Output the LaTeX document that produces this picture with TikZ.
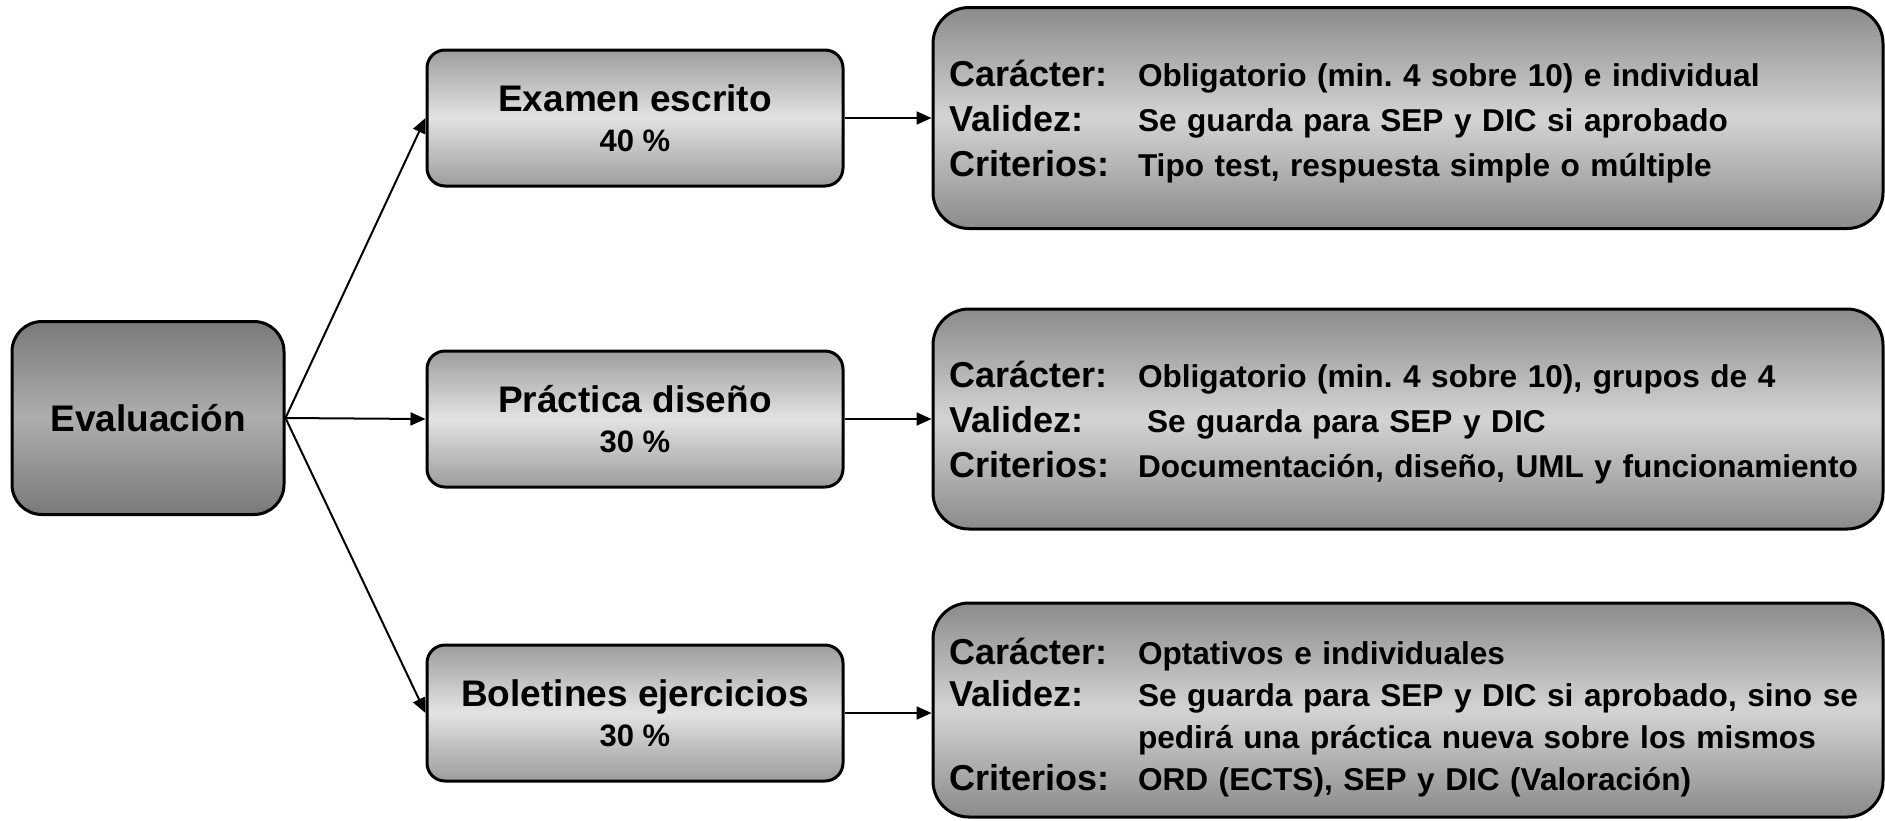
\documentclass[tikz,border=0pt]{standalone}
\usepackage{fontspec}
\setmainfont{Liberation Sans}
\usetikzlibrary{shapes, arrows.meta, positioning, calc}
\frenchspacing

\definecolor{evalborde}{gray}{0.48}
\definecolor{evalcentro}{gray}{0.68}
\definecolor{cajaborde}{gray}{0.62}
\definecolor{cajacentro}{gray}{0.89}
\definecolor{detborde}{gray}{0.55}
\definecolor{detcentro}{gray}{0.83}

\tikzset{
    % relleno degradado: color borde, color centro
    degradado/.style 2 args={path picture={
        \foreach \i in {0,...,59}{
            \pgfmathsetmacro{\p}{100*abs(\i-29.5)/29.5}
            \fill[#1!\p!#2, sharp corners] ($(path picture bounding box.north west)!{\i/60}!(path picture bounding box.south west)$)
                rectangle ($(path picture bounding box.north east)!{(\i+1.5)/60}!(path picture bounding box.south east)$);
        }}},
    caja/.style={draw=black, line width=3pt, rounded corners=18pt,
        degradado={cajaborde}{cajacentro},
        minimum width=416pt, minimum height=136pt, align=center,
        font=\bfseries\fontsize{31}{40}\selectfont},
    raiz/.style={draw=black, line width=3pt, rounded corners=30pt,
        degradado={evalborde}{evalcentro},
        minimum width=272pt, minimum height=193pt,
        font=\bfseries\fontsize{37}{40}\selectfont},
    detalle/.style={draw=black, line width=3pt, rounded corners=36pt,
        degradado={detborde}{detcentro},
        minimum width=950pt, text width=918pt, inner sep=16pt, align=left,
        font=\bfseries\fontsize{31.6}{45}\selectfont},
    flecha/.style={-{Triangle[length=15pt,width=13pt]}, line width=2pt}
}
\newcommand{\fila}[2]{\makebox[189pt][l]{\fontsize{36}{45}\selectfont #1}\mbox{#2}}
\newcommand{\primera}[1]{\rule{0pt}{#1}}
\newcommand{\titulo}[1]{{\fontsize{37}{42}\selectfont #1}}

\begin{document}
\begin{tikzpicture}[x=1pt,y=-1pt]
        \useasboundingbox (0,0) rectangle (1885,820);

        \node[raiz] (eval) at (148,418) {Evaluaci\'on};

        \node[caja] (examen) at (635,118) {\titulo{Examen escrito}\\40 \%};
        \node[caja] (practica) at (635,419) {\titulo{Pr\'actica dise\~no}\\30 \%};
        \node[caja] (boletines) at (635,713) {\titulo{Boletines ejercicios}\\30 \%};

        \node[detalle, minimum height=221pt] (d1) at (1408,118) {%
            \primera{33pt}\fila{Car\'acter:}{Obligatorio (min. 4 sobre 10) e individual}\\
            \fila{Validez:}{Se guarda para SEP y DIC si aprobado}\\
            \fila{Criterios:}{Tipo test, respuesta simple o m\'ultiple}};
        \node[detalle, minimum height=220pt] (d2) at (1408,419) {%
            \primera{33pt}\fila{Car\'acter:}{Obligatorio (min. 4 sobre 10), grupos de 4}\\
            \fila{Validez:}{\hspace{9pt}Se guarda para SEP y DIC}\\
            \fila{Criterios:}{Documentaci\'on, dise\~no, UML y funcionamiento}};
        \node[detalle, minimum height=214pt, font=\bfseries\fontsize{31.6}{42}\selectfont] (d3) at (1408,710) {%
            \primera{42pt}\fila{Car\'acter:}{Optativos e individuales}\\
            \fila{Validez:}{Se guarda para SEP y DIC si aprobado, sino se}\\
            \fila{}{pedir\'a una pr\'actica nueva sobre los mismos}\\
            \fila{Criterios:}{ORD (ECTS), SEP y DIC (Valoraci\'on)}};

        \draw[flecha] (eval.east) -- (examen.west);
        \draw[flecha] (eval.east) -- (practica.west);
        \draw[flecha] (eval.east) -- (boletines.west);

        \draw[flecha] (examen.east) -- (d1.west |- examen.east);
        \draw[flecha] (practica.east) -- (d2.west |- practica.east);
        \draw[flecha] (boletines.east) -- (d3.west |- boletines.east);
\end{tikzpicture}
\end{document}
